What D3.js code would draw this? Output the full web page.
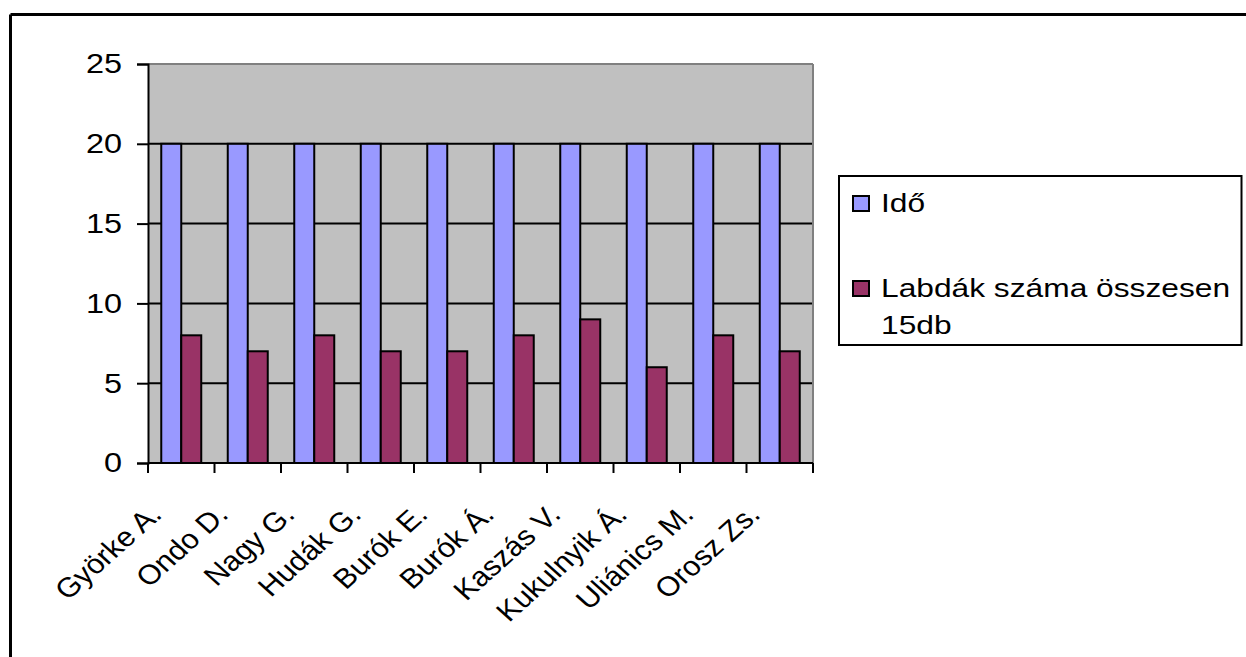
<!DOCTYPE html>
<html>
<head>
<meta charset="utf-8">
<script src="https://cdn.jsdelivr.net/npm/d3@7"></script>
<style>
  html, body { margin: 0; padding: 0; background: #fff; }
  svg { display: block; font-family: "Liberation Sans", Arial, sans-serif; }
</style>
</head>
<body>
<svg id="chart" width="1246" height="657"></svg>
<script>
// Players and their results
const categories = ["Györke A.", "Ondo D.", "Nagy G.", "Hudák G.", "Burók E.", "Burók Á.", "Kaszás V.", "Kukulnyik Á.", "Uliánics M.", "Orosz Zs."];
const seriesNames = ["Idő", "Labdák száma összesen 15db"];
const idoValues = [20, 20, 20, 20, 20, 20, 20, 20, 20, 20];
const labdakValues = [8, 7, 8, 7, 7, 8, 9, 6, 8, 7];
const yTicks = [0, 5, 10, 15, 20, 25];
const seriesColors = ["#9999FF", "#993366"];

// Text is drawn slightly wide (horizontal stretch)
const STRETCH = 1.2;
const FONT = 27;

const svg = d3.select("#chart");

// Outer frame (top and left edges)
svg.append("line").attr("x1", 10.5).attr("x2", 1246).attr("y1", 14.5).attr("y2", 14.5)
  .attr("stroke", "#000").attr("stroke-width", 3);
svg.append("line").attr("x1", 10.5).attr("x2", 10.5).attr("y1", 14.5).attr("y2", 657)
  .attr("stroke", "#000").attr("stroke-width", 3);

const plot = { left: 148, right: 813, top: 64, bottom: 463 };

const x = d3.scaleBand().domain(categories).range([plot.left, plot.right]).padding(0);
const xs = d3.scaleBand().domain(seriesNames).range([0, x.bandwidth()])
  .paddingInner(0).paddingOuter(0.6625);
const y = d3.scaleLinear().domain([0, 25]).range([plot.bottom, plot.top]);

// Plot background
svg.append("rect")
  .attr("x", plot.left).attr("y", plot.top)
  .attr("width", plot.right - plot.left).attr("height", plot.bottom - plot.top)
  .attr("fill", "#C0C0C0");

// Horizontal gridlines
svg.append("g").selectAll("line")
  .data(yTicks.filter(t => t > 0 && t < 25))
  .join("line")
  .attr("x1", plot.left).attr("x2", plot.right)
  .attr("y1", d => y(d)).attr("y2", d => y(d))
  .attr("stroke", "#000").attr("stroke-width", 2);

// Top and right plot borders
svg.append("line").attr("x1", plot.left).attr("x2", plot.right)
  .attr("y1", plot.top).attr("y2", plot.top)
  .attr("stroke", "#808080").attr("stroke-width", 2);
svg.append("line").attr("x1", plot.right).attr("x2", plot.right)
  .attr("y1", plot.top).attr("y2", plot.bottom)
  .attr("stroke", "#808080").attr("stroke-width", 2);

// Bars
const rows = categories.map((c, i) => ({ cat: c, values: [idoValues[i], labdakValues[i]] }));
const groups = svg.append("g").selectAll("g")
  .data(rows)
  .join("g")
  .attr("transform", d => `translate(${x(d.cat)},0)`);
groups.selectAll("rect")
  .data(d => d.values.map((v, k) => ({ name: seriesNames[k], v, k })))
  .join("rect")
  .attr("x", d => xs(d.name))
  .attr("width", xs.bandwidth())
  .attr("y", d => y(d.v))
  .attr("height", d => y(0) - y(d.v))
  .attr("fill", d => seriesColors[d.k])
  .attr("stroke", "#000")
  .attr("stroke-width", 2);

// Y axis (line and ticks from d3.axisLeft, labels drawn stretched)
const yAxis = svg.append("g").attr("transform", `translate(${plot.left},0)`)
  .call(d3.axisLeft(y).tickValues(yTicks).tickSize(11).tickFormat(""));
yAxis.select(".domain").attr("stroke", "#000").attr("stroke-width", 2);
yAxis.selectAll(".tick line").attr("stroke", "#000").attr("stroke-width", 2);
svg.append("g").selectAll("text")
  .data(yTicks)
  .join("text")
  .attr("transform", d => `translate(${plot.left - 26},${y(d)}) scale(${STRETCH},1)`)
  .attr("text-anchor", "end")
  .attr("dy", "0.35em")
  .attr("font-size", FONT)
  .attr("fill", "#000")
  .text(d => d);

// X axis line and boundary ticks
const boundaries = categories.map(c => x(c)).concat([plot.right]);
svg.append("line").attr("x1", plot.left).attr("x2", plot.right)
  .attr("y1", plot.bottom).attr("y2", plot.bottom)
  .attr("stroke", "#000").attr("stroke-width", 2);
svg.append("g").selectAll("line")
  .data(boundaries)
  .join("line")
  .attr("x1", d => d).attr("x2", d => d)
  .attr("y1", plot.bottom).attr("y2", plot.bottom + 10)
  .attr("stroke", "#000").attr("stroke-width", 2);

// Category labels, rotated
svg.append("g").selectAll("text")
  .data(categories)
  .join("text")
  .attr("transform", d => `translate(${x(d) + x.bandwidth() / 2 - 18},${plot.bottom + 53}) scale(1.12,1) rotate(-45)`)
  .attr("text-anchor", "end")
  .attr("font-size", 27.5)
  .attr("fill", "#000")
  .text(d => d);

// Legend
const legend = svg.append("g");
legend.append("rect")
  .attr("x", 839).attr("y", 176).attr("width", 402.5).attr("height", 169)
  .attr("fill", "#fff").attr("stroke", "#000").attr("stroke-width", 2);

const legendItems = [
  { color: seriesColors[0], lines: ["Idő"], base: 212 },
  { color: seriesColors[1], lines: ["Labdák száma összesen", "15db"], base: 297 }
];
legendItems.forEach(item => {
  legend.append("rect")
    .attr("x", 853).attr("y", item.base - 16)
    .attr("width", 16).attr("height", 15)
    .attr("fill", item.color).attr("stroke", "#000").attr("stroke-width", 2);
  item.lines.forEach((ln, i) => {
    legend.append("text")
      .attr("transform", `translate(881,${item.base + i * 37}) scale(1.22,1)`)
      .attr("font-size", FONT - 1)
      .attr("fill", "#000")
      .text(ln);
  });
});
</script>
</body>
</html>
